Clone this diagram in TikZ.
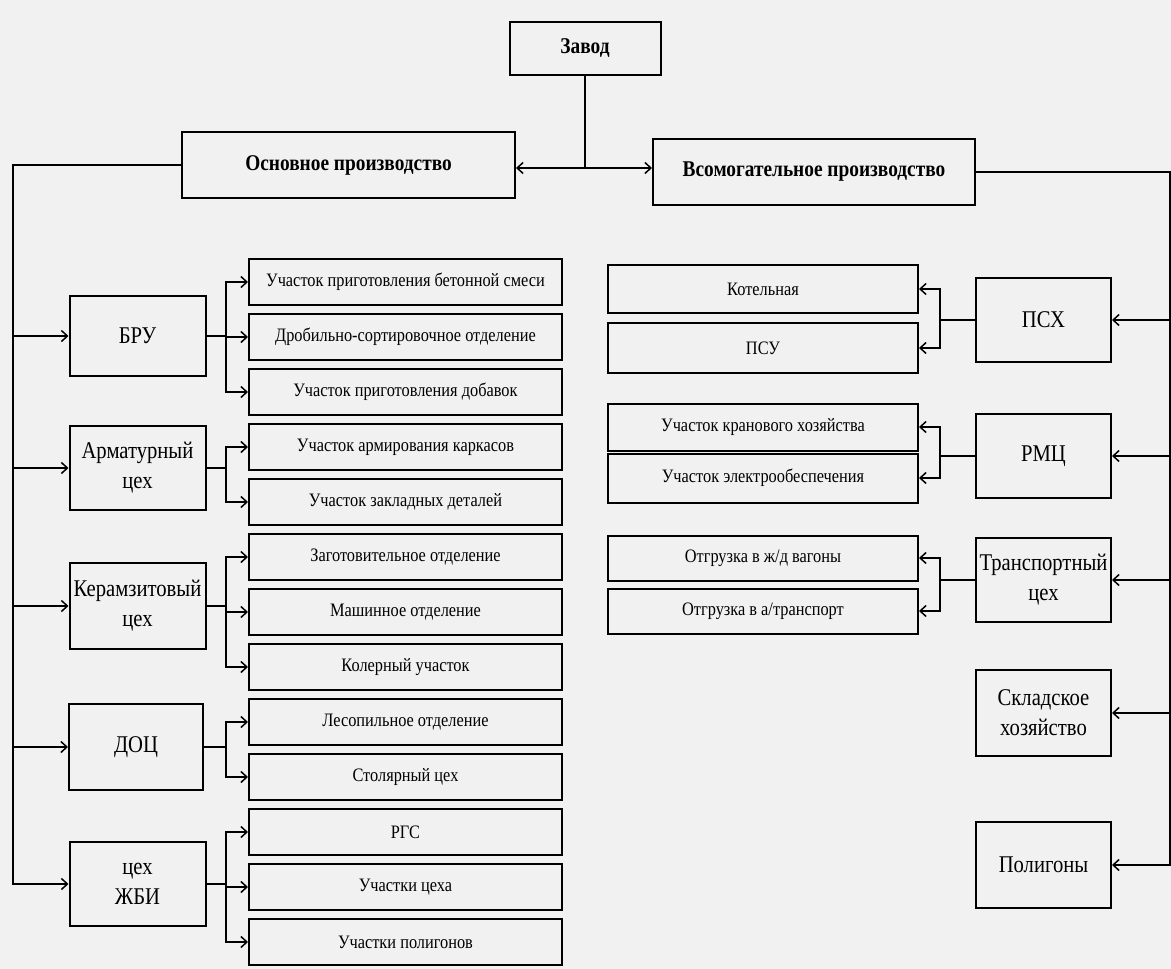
\documentclass[tikz,border=0pt]{standalone}
\usepackage{fontspec}
\setmainfont{Liberation Serif}[FakeStretch=0.86]
\usetikzlibrary{arrows.meta}
\definecolor{paper}{HTML}{F1F1F1}
\tikzset{
  box/.style={draw=black, line width=2pt, inner sep=0pt, align=center},
  topbox/.style={box, font=\fontsize{22.5}{25}\selectfont\bfseries},
  lvl/.style={box, minimum width=136pt, minimum height=84pt, font=\fontsize{24}{30}\selectfont},
  subl/.style={box, minimum width=313pt, minimum height=46pt, font=\fontsize{19}{21}\selectfont},
  subr/.style={box, minimum width=310pt, font=\fontsize{19}{21}\selectfont},
  wire/.style={line width=1.8pt},
  arr/.style={wire, -{Straight Barb[length=6pt,width=11pt,line width=1.5pt]}},
}
\begin{document}
\begin{tikzpicture}[x=1pt,y=-1pt]
\fill[paper] (0,0) rectangle (1171,969);
\useasboundingbox (0,0) rectangle (1171,969);

% top
\node[topbox, minimum width=151pt, minimum height=53pt] (zavod) at (585,48.5) {Завод};
\node[topbox, minimum width=333pt, minimum height=66pt] (osn) at (348.5,165) {Основное производство};
\node[topbox, minimum width=322pt, minimum height=66pt] (vsp) at (814,172) {Всомогательное производство};
\coordinate (j) at (585,168);
\draw[wire] (zavod.south) -- (j);
\draw[arr] (j) -- (osn.east |- j);
\draw[arr] (j) -- (vsp.west |- j);

% left level 1
\node[lvl, minimum height=80pt] (bru) at (137.5,336) {БРУ};
\node[lvl] (arm) at (137.5,468) {Арматурный\\цех};
\node[lvl, minimum height=86pt] (ker) at (137.5,606) {Керамзитовый\\цех};
\node[lvl, minimum width=134pt, minimum height=86pt] (doc) at (136,747) {ДОЦ};
\node[lvl] (zhbi) at (137.5,884) {цех\\ЖБИ};

% left subs
\node[subl] (s0) at (405.5,282) {Участок приготовления бетонной смеси};
\node[subl] (s1) at (405.5,337) {Дробильно-сортировочное отделение};
\node[subl] (s2) at (405.5,392) {Участок приготовления добавок};
\node[subl] (s3) at (405.5,447) {Участок армирования каркасов};
\node[subl] (s4) at (405.5,502) {Участок закладных деталей};
\node[subl] (s5) at (405.5,557) {Заготовительное отделение};
\node[subl] (s6) at (405.5,612) {Машинное отделение};
\node[subl] (s7) at (405.5,667) {Колерный участок};
\node[subl] (s8) at (405.5,722) {Лесопильное отделение};
\node[subl] (s9) at (405.5,777) {Столярный цех};
\node[subl] (s10) at (405.5,832) {РГС};
\node[subl] (s11) at (405.5,887) {Участки цеха};
\node[subl] (s12) at (405.5,942) {Участки полигонов};

% left trunk
\coordinate (lt) at (13,165);
\draw[arr] (osn.west) -- (lt) -- (lt |- zhbi.west) -- (zhbi.west);
\draw[arr] (lt |- bru.west) -- (bru.west);
\draw[arr] (lt |- arm.west) -- (arm.west);
\draw[arr] (lt |- ker.west) -- (ker.west);
\draw[arr] (lt |- doc.west) -- (doc.west);

% left buses
\coordinate (bA) at (226,0);
\foreach \p/\c in {bru/s0,bru/s1,bru/s2,arm/s3,arm/s4,ker/s5,ker/s6,ker/s7,doc/s8,doc/s9,zhbi/s10,zhbi/s11,zhbi/s12}{
  \draw[arr] (\p.east) -- (bA |- \p.east) |- (\c.west);
}

% right level 1
\node[lvl, minimum width=135pt, minimum height=84pt] (psx) at (1043.5,320) {ПСХ};
\node[lvl, minimum width=135pt, minimum height=84pt] (rmc) at (1043.5,456) {РМЦ};
\node[lvl, minimum width=135pt, minimum height=84pt] (tr) at (1043.5,580) {Транспортный\\цех};
\node[lvl, minimum width=135pt, minimum height=86pt] (skl) at (1043.5,713) {Складское\\хозяйство};
\node[lvl, minimum width=135pt, minimum height=86pt] (pol) at (1043.5,865) {Полигоны};

% right subs
\node[subr, minimum height=48pt] (r0) at (763,289) {Котельная};
\node[subr, minimum height=50pt] (r1) at (763,348) {ПСУ};
\node[subr, minimum height=47pt] (r2) at (763,427) {Участок кранового хозяйства};
\node[subr, minimum height=49pt] (r3) at (763,478) {Участок электрообеспечения};
\node[subr, minimum height=45pt] (r4) at (763,558) {Отгрузка в ж/д вагоны};
\node[subr, minimum height=45pt] (r5) at (763,611) {Отгрузка в а/транспорт};

% right trunk
\coordinate (rt) at (1170,172);
\draw[arr] (vsp.east) -- (rt) -- (rt |- pol.east) -- (pol.east);
\draw[arr] (rt |- psx.east) -- (psx.east);
\draw[arr] (rt |- rmc.east) -- (rmc.east);
\draw[arr] (rt |- tr.east) -- (tr.east);
\draw[arr] (rt |- skl.east) -- (skl.east);

% right buses
\coordinate (bB) at (940,0);
\foreach \p/\c in {psx/r0,psx/r1,rmc/r2,rmc/r3,tr/r4,tr/r5}{
  \draw[arr] (\p.west) -- (bB |- \p.west) |- (\c.east);
}
\end{tikzpicture}
\end{document}
